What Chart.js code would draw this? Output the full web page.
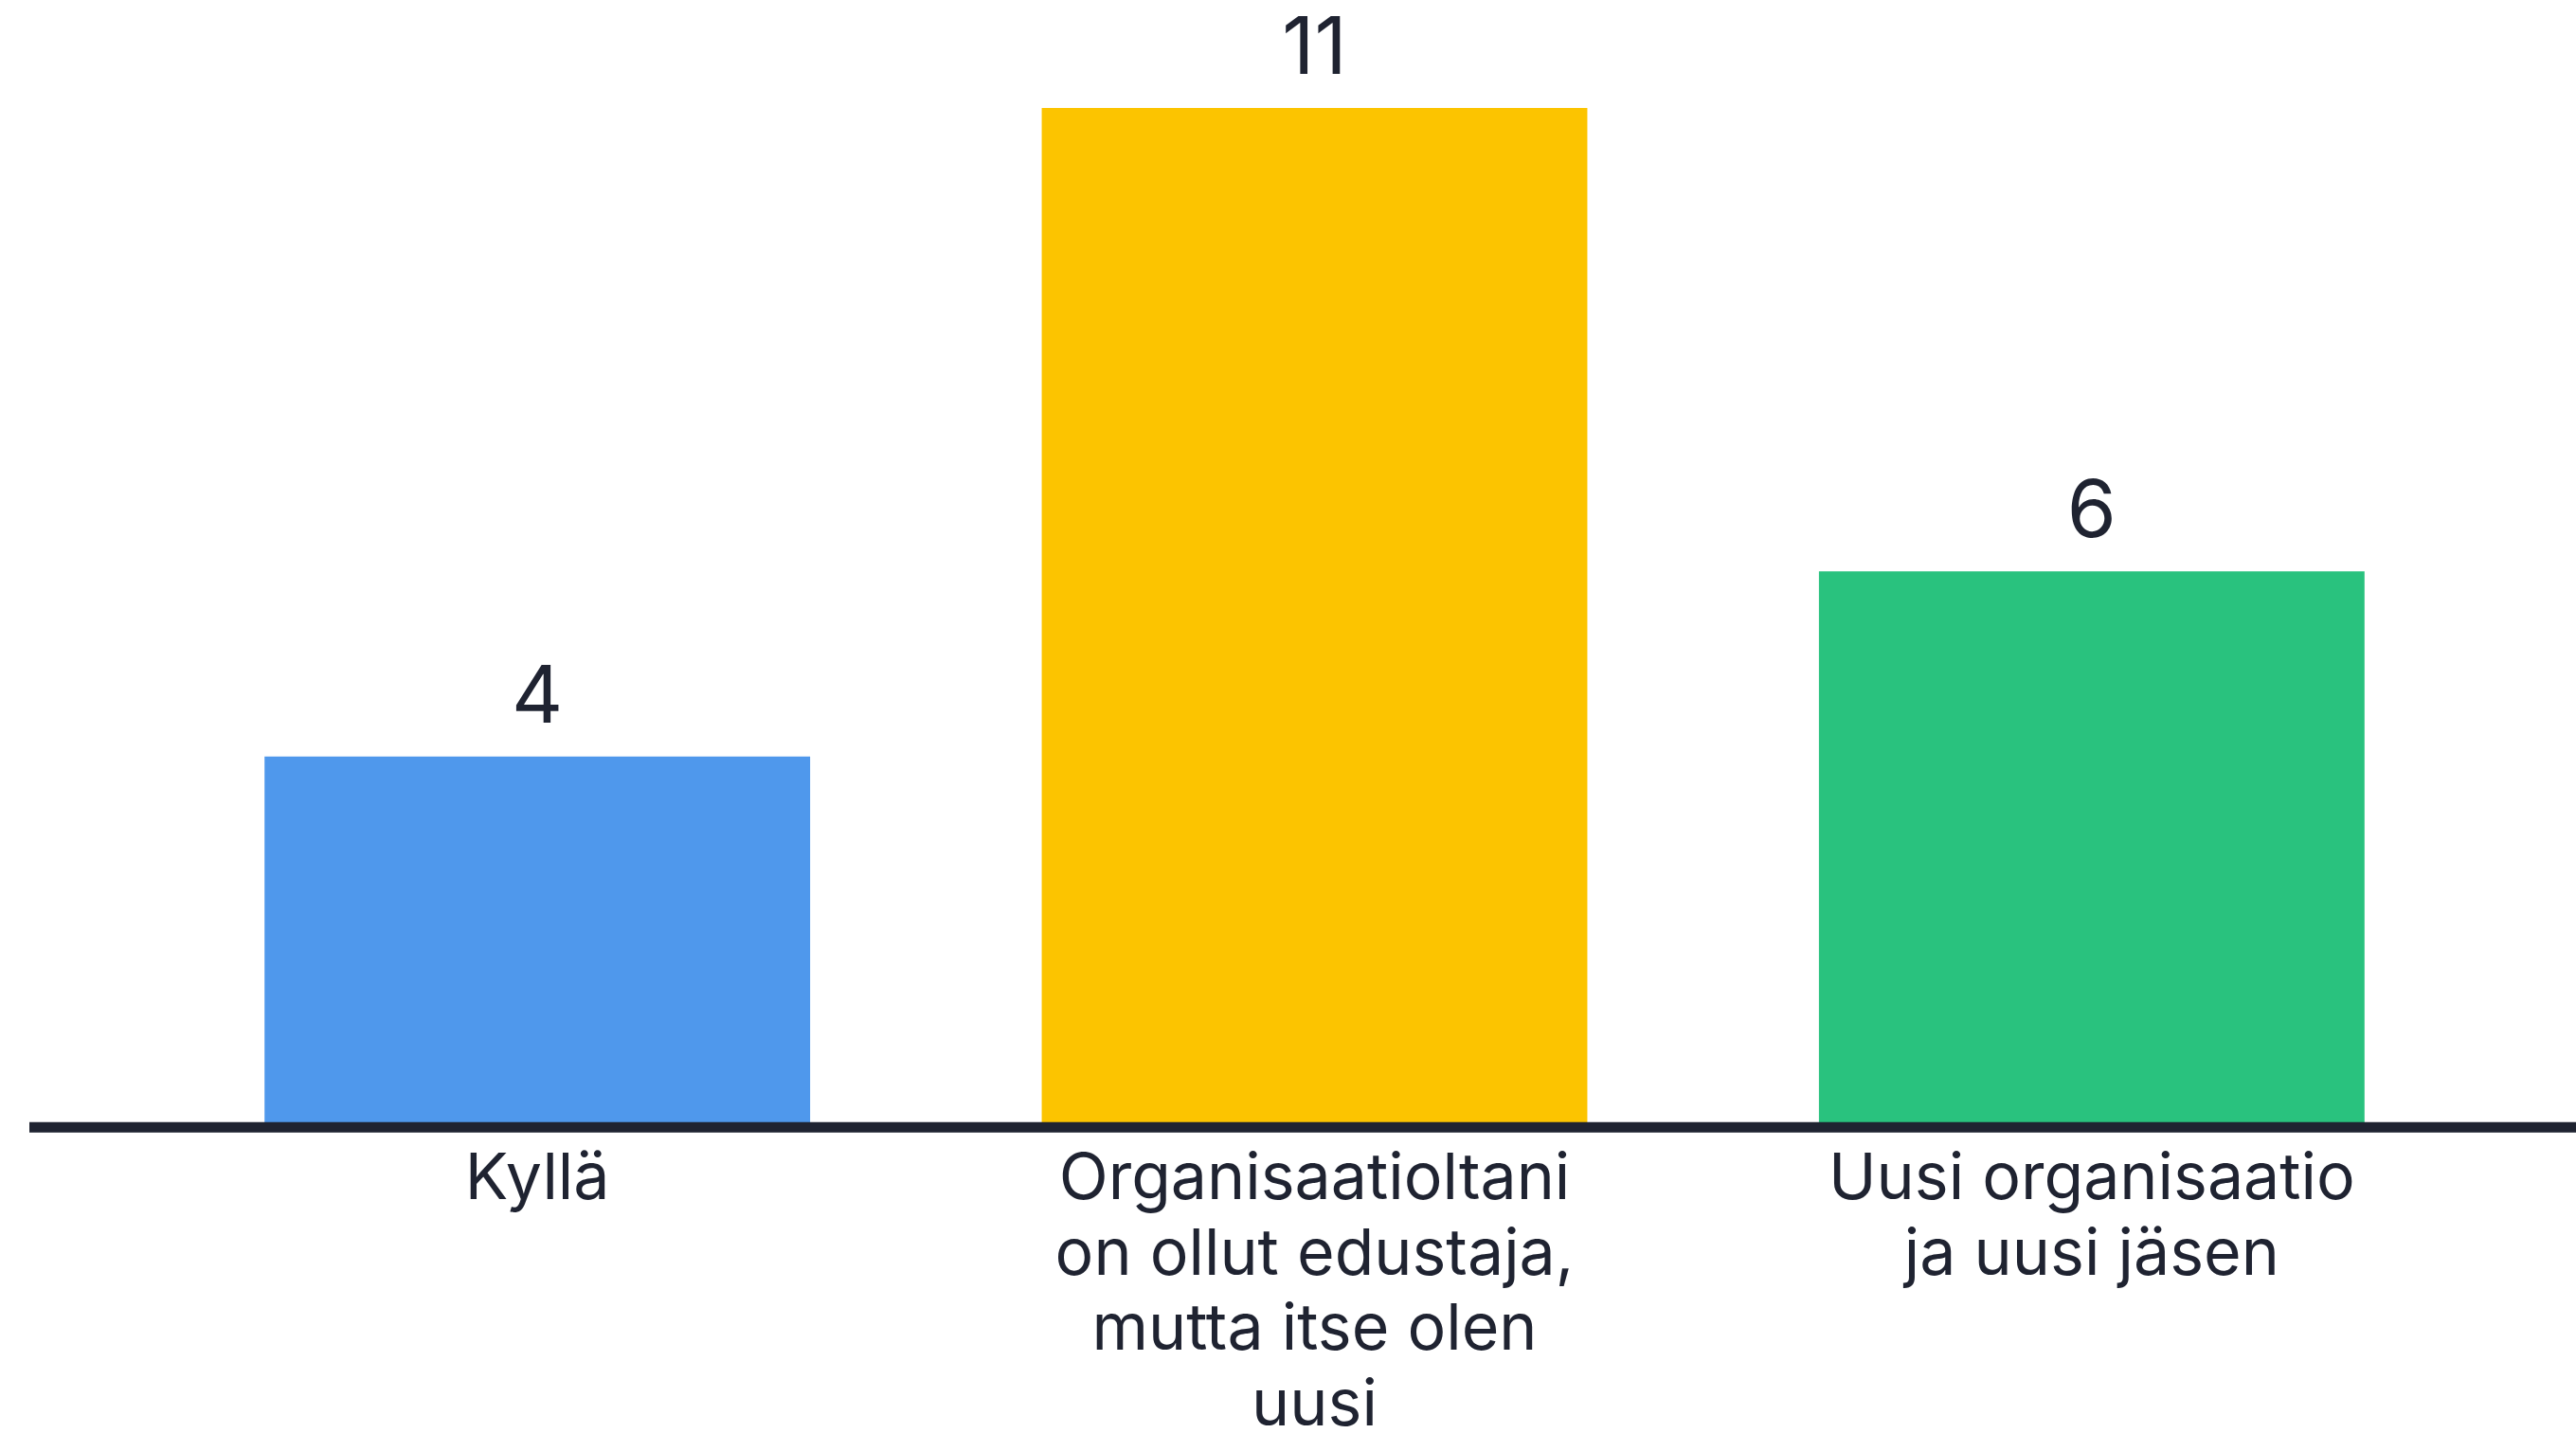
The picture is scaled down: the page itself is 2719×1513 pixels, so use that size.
<!DOCTYPE html>
<html>
<head>
<meta charset="utf-8">
<script src="https://cdn.jsdelivr.net/npm/chart.js@4/dist/chart.umd.min.js"></script>
<style>
  html, body { margin: 0; padding: 0; background: #ffffff; }
  #wrap { width: 2719px; height: 1513px; position: relative; }
</style>
</head>
<body>
<div id="wrap"><canvas id="c"></canvas></div>
<script>
const categories = [
  ["Kyllä"],
  ["Organisaatioltani", "on ollut edustaja,", "mutta itse olen", "uusi"],
  ["Uusi organisaatio", "ja uusi jäsen"]
];
const values = [4, 11, 6];
const barColors = ["#4f98ec", "#fcc400", "#29c27e"];
const textColor = "#1f2331";
const fontFamily = "Inter, Lato, 'Noto Sans', sans-serif";

const valueLabels = {
  id: 'valueLabels',
  afterDatasetsDraw(chart) {
    const ctx = chart.ctx;
    const meta = chart.getDatasetMeta(0);
    ctx.save();
    ctx.fillStyle = textColor;
    ctx.font = "84px " + fontFamily;
    ctx.textAlign = 'center';
    ctx.textBaseline = 'alphabetic';
    meta.data.forEach((bar, i) => {
      ctx.fillText(String(values[i]), bar.x, bar.y - 36);
    });
    ctx.restore();
  }
};

const baseLine = {
  id: 'baseLine',
  afterDatasetsDraw(chart) {
    const ctx = chart.ctx;
    const y = chart.scales.y.getPixelForValue(0);
    ctx.save();
    ctx.strokeStyle = textColor;
    ctx.lineWidth = 11;
    ctx.beginPath();
    ctx.moveTo(31, y);
    ctx.lineTo(chart.width, y);
    ctx.stroke();
    ctx.restore();
  }
};

new Chart(document.getElementById('c'), {
  type: 'bar',
  data: {
    labels: categories,
    datasets: [{
      data: values,
      backgroundColor: barColors,
      borderWidth: 0,
      categoryPercentage: 1,
      barPercentage: 0.702
    }]
  },
  options: {
    responsive: true,
    maintainAspectRatio: false,
    animation: false,
    layout: { padding: { top: 114, left: 157, right: 101, bottom: -27 } },
    plugins: { legend: { display: false }, tooltip: { enabled: false } },
    scales: {
      y: { display: false, min: 0, max: 11 },
      x: {
        grid: { display: false, drawTicks: false },
        border: { display: false },
        ticks: {
          color: textColor,
          padding: 15,
          maxRotation: 0,
          autoSkip: false,
          font: { family: fontFamily, size: 68, lineHeight: 1.176 }
        }
      }
    }
  },
  plugins: [valueLabels, baseLine]
});
</script>
</body>
</html>
